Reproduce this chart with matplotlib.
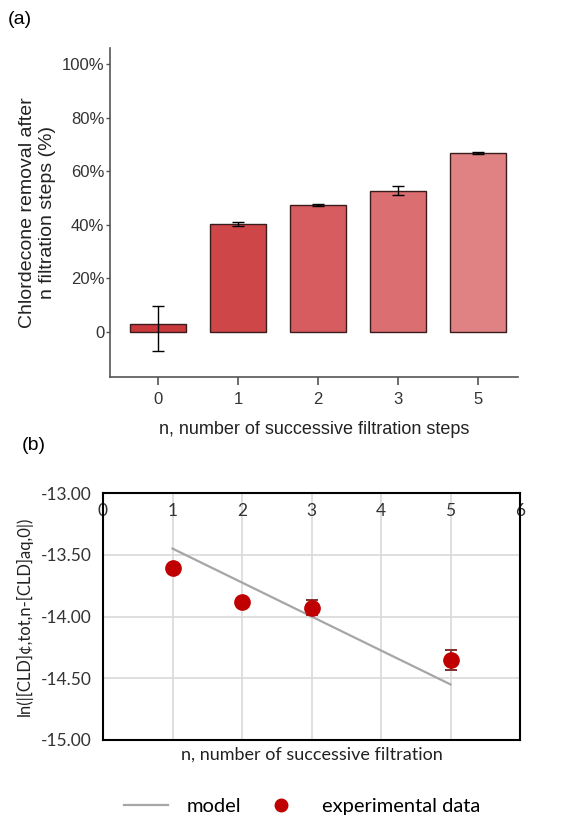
import numpy as np
import matplotlib.pyplot as plt
from matplotlib.lines import Line2D

# ---------------- datos panel (a) ----------------
pasos_a = ['0', '1', '2', '3', '5']
remocion = [3.0, 40.1, 47.2, 52.7, 66.8]          # %
err_inf = [10.4, 0.7, 0.3, 1.8, 0.3]
err_sup = [6.5, 0.7, 0.3, 1.7, 0.3]
colores = ['#c9393c', '#cf4649', '#d65c5f', '#db6e70', '#e08283']

# ---------------- datos panel (b) ----------------
n_exp = [1, 2, 3, 5]
ln_exp = [-13.61, -13.88, -13.93, -14.35]
ln_err = [0.02, 0.03, 0.06, 0.08]
n_mod = [1, 2, 3, 5]
ln_mod = [-13.45, -13.725, -14.0, -14.55]

W, H = 563, 818
fig = plt.figure(figsize=(W / 100, H / 100), dpi=100)

def caja(x0, y0, x1, y1):
    return [x0 / W, 1 - y1 / H, (x1 - x0) / W, (y1 - y0) / H]

# ================= (a) =================
fa = ['Liberation Sans', 'DejaVu Sans']
axa = fig.add_axes(caja(110, 48, 518, 377))
x = np.arange(len(pasos_a))
axa.bar(x, remocion, width=0.7, color=colores, edgecolor='#3a1c1c', lw=1.0, zorder=2)
axa.errorbar(x, remocion, yerr=[err_inf, err_sup], fmt='none', ecolor='black',
             elinewidth=1.0, capsize=4, capthick=1.0, zorder=3)
axa.set_xlim(-0.6, 4.5)
axa.set_ylim(-17, 106)
axa.set_xticks(x)
axa.set_xticklabels(pasos_a, family=fa, fontsize=12, color='#333333')
axa.set_yticks([0, 20, 40, 60, 80, 100])
axa.set_yticklabels(['0', '20%', '40%', '60%', '80%', '100%'], family=fa,
                    fontsize=12, color='#333333')
for s in ('top', 'right'):
    axa.spines[s].set_visible(False)
for s in ('left', 'bottom'):
    axa.spines[s].set_color('#555555')
    axa.spines[s].set_linewidth(1.2)
axa.tick_params(axis='x', length=6, width=1.2, color='#555555', pad=5)
axa.tick_params(axis='y', length=3, width=1, color='#555555', pad=1)
axa.set_ylabel('Chlordecone removal after\nn filtration steps (%)', family=fa,
               fontsize=14, color='#222222', labelpad=4, linespacing=1.25)
axa.set_xlabel('n, number of successive filtration steps', family=fa,
               fontsize=13, color='#222222', labelpad=10)
fig.text(8 / W, 1 - 20 / H, '(a)', family=fa, fontsize=14, va='center', ha='left')

# ================= (b) =================
fb = ['Lato', 'DejaVu Sans']
axb = fig.add_axes(caja(103, 493, 520, 740))
axb.set_xlim(0, 6)
axb.set_ylim(-15, -13)
axb.set_xticks(range(7))
axb.set_yticks([-15, -14.5, -14, -13.5, -13])
axb.set_yticklabels(['-15.00', '-14.50', '-14.00', '-13.50', '-13.00'],
                    family=fb, fontsize=12.5, color='#333333')
axb.set_xticklabels([str(i) for i in range(7)], family=fb, fontsize=12.5, color='#333333')
axb.xaxis.set_ticks_position('top')
axb.tick_params(axis='x', length=0, pad=-19)
axb.tick_params(axis='y', length=0, pad=8)
axb.grid(True, color='#d9d9d9', lw=1.2, zorder=0)
for s in axb.spines.values():
    s.set_color('black')
    s.set_linewidth(1.5)

axb.plot(n_mod, ln_mod, color='#a6a6a6', lw=1.6, zorder=3)
axb.errorbar(n_exp, ln_exp, yerr=ln_err, fmt='none', ecolor='#7f3030',
             elinewidth=1.2, capsize=4, capthick=1.4, zorder=4)
axb.plot(n_exp, ln_exp, 'o', color='#c00000', ms=11, mec='#c00000', zorder=5)

axb.set_ylabel('ln(|[CLD]¢,tot,n-[CLD]aq,0|)', family=fb, fontsize=12,
               color='#222222', labelpad=6)
fig.text(312 / W, 1 - 755 / H, 'n, number of successive filtration', family=fb,
         fontsize=13, color='#222222', ha='center', va='center')
fig.text(22 / W, 1 - 445 / H, '(b)', family=fa, fontsize=14, va='center', ha='left')

handles = [Line2D([], [], color='#a6a6a6', lw=1.6),
           Line2D([], [], ls='none', marker='o', color='#c00000', ms=9)]
fig.legend(handles, ['model', 'experimental data'], loc='center',
           bbox_to_anchor=(302 / W, 1 - 806 / H), ncol=2, frameon=False,
           prop={'family': fb, 'size': 14.5}, handlelength=2.2, handletextpad=0.9,
           columnspacing=0.9)

fig.savefig('out.png', dpi=100)
